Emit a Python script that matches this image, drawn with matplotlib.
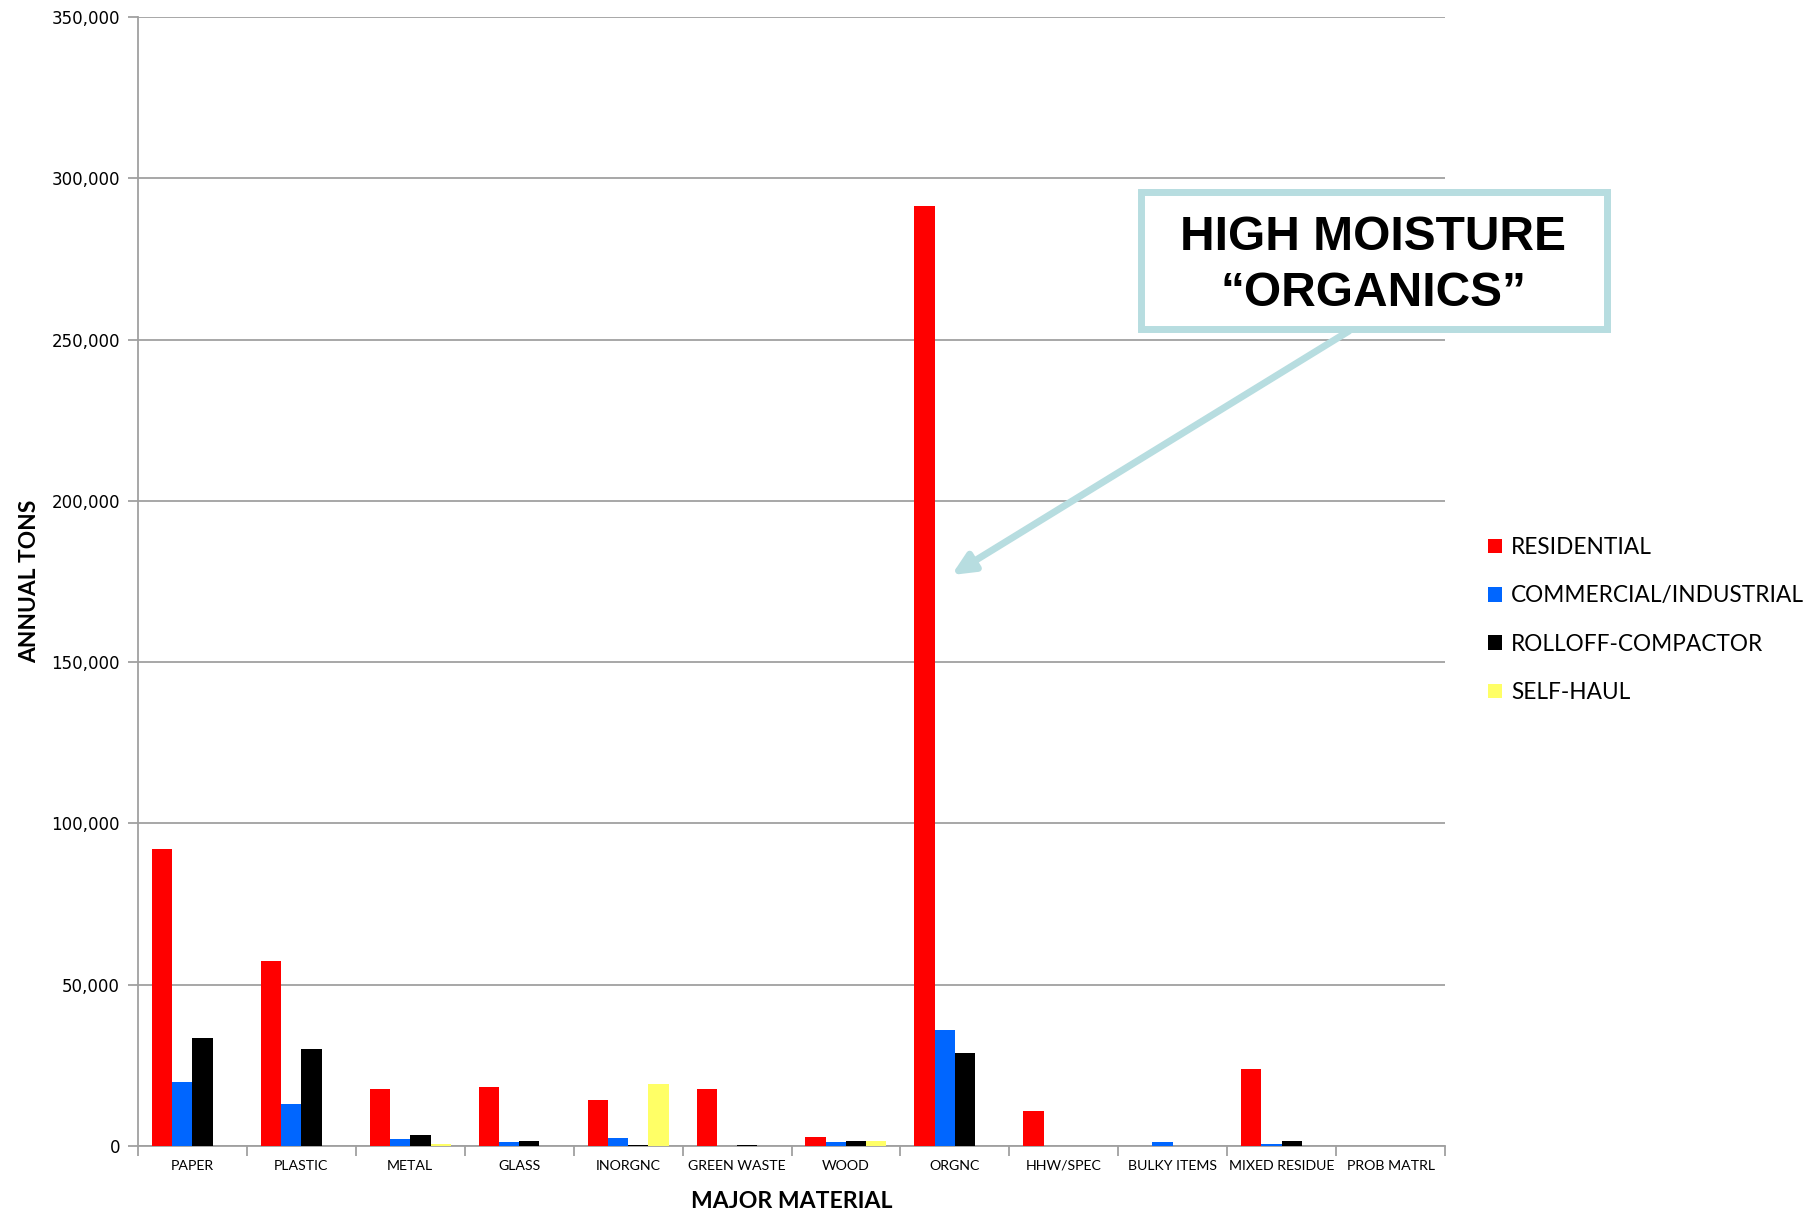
import matplotlib
matplotlib.use("Agg")
import matplotlib.pyplot as plt
from matplotlib.patches import Rectangle
from matplotlib.ticker import FuncFormatter, FixedLocator
import numpy as np

materials = ["PAPER", "PLASTIC", "METAL", "GLASS", "INORGNC", "GREEN WASTE",
             "WOOD", "ORGNC", "HHW/SPEC", "BULKY ITEMS", "MIXED RESIDUE", "PROB MATRL"]
residential = [92000, 57200, 17600, 18300, 14400, 17600, 2700, 291400, 10800, 0, 23800, 0]
commercial  = [19900, 13100, 2300, 1200, 2400, 0, 1100, 35900, 0, 1100, 600, 0]
rolloff     = [33500, 30200, 3400, 1400, 300, 300, 1600, 28900, 0, 0, 1400, 0]
selfhaul    = [0, 0, 500, 0, 19200, 0, 1400, 0, 0, 0, 0, 0]

series = [
    ("RESIDENTIAL", residential, "#FF0000"),
    ("COMMERCIAL/INDUSTRIAL", commercial, "#0066FF"),
    ("ROLLOFF-COMPACTOR", rolloff, "#000000"),
    ("SELF-HAUL", selfhaul, "#FFFF66"),
]

W, H = 1816, 1213
fig = plt.figure(figsize=(W / 100, H / 100), dpi=100)
ax = fig.add_axes([138 / W, 1 - 1146 / H, (1445 - 138) / W, (1146 - 17) / H])

x = np.arange(len(materials))
bw = 0.186
for i, (name, vals, col) in enumerate(series):
    ax.bar(x + (i - 1.5) * bw, vals, bw, color=col, label=name, zorder=3)

grid_col = "#A0A0A0"
ax.set_xlim(-0.5, len(materials) - 0.5)
ax.set_ylim(0, 350000)
ax.set_yticks(np.arange(0, 350001, 50000))
ax.yaxis.set_major_formatter(FuncFormatter(lambda v, p: f"{int(v):,}"))
ax.grid(axis="y", color=grid_col, linewidth=1.3, zorder=0)
for s in ("top", "right"):
    ax.spines[s].set_visible(False)
for s in ("left", "bottom"):
    ax.spines[s].set_color(grid_col)
    ax.spines[s].set_linewidth(1.3)

ax.tick_params(axis="y", length=7, width=1.3, color=grid_col, labelsize=12, pad=6)

ax.set_xticks(x)
ax.set_xticklabels(materials, family="Lato", fontsize=10.2)
ax.tick_params(axis="x", length=0, pad=10)
ax.xaxis.set_minor_locator(FixedLocator(np.arange(-0.5, len(materials), 1.0)))
ax.tick_params(axis="x", which="minor", length=7, width=1.3, color=grid_col)

ax.set_xlabel("MAJOR MATERIAL", family="Lato", fontweight="bold", fontsize=16.6, labelpad=14)
ax.set_ylabel("ANNUAL TONS", family="Lato", fontweight="bold", fontsize=16.4, labelpad=8)

leg = fig.legend(loc="center left", bbox_to_anchor=(1468 / W, 1 - 620 / H), frameon=False,
                 prop={"family": "Lato", "size": 16.3}, handlelength=0.6,
                 handleheight=0.6, handletextpad=0.4, labelspacing=1.2)

# callout box and arrow
box_col = "#B7DDE0"
bx0, by0, bx1, by1 = 1141, 192, 1607, 329
fig.patches.append(Rectangle((bx0 / W, 1 - by1 / H), (bx1 - bx0) / W, (by1 - by0) / H,
                             transform=fig.transFigure, facecolor="white",
                             edgecolor=box_col, linewidth=5, zorder=5))
fig.text(1373 / W, 1 - 238 / H, "HIGH MOISTURE", ha="center", va="center",
         family="Liberation Sans", fontweight="bold", fontsize=34.5, zorder=6)
fig.text(1373 / W, 1 - 294 / H, "\u201cORGANICS\u201d", ha="center", va="center",
         family="Liberation Sans", fontweight="bold", fontsize=34.5, zorder=6)
ax.annotate("", xy=(6.97, 177000), xycoords="data",
            xytext=(1349 / W, 1 - 331 / H), textcoords="figure fraction",
            arrowprops=dict(arrowstyle="-|>,head_length=1.3,head_width=0.6",
                            color=box_col, linewidth=5, shrinkA=0, shrinkB=0),
            zorder=4, annotation_clip=False)

fig.savefig("out.png", dpi=100)
